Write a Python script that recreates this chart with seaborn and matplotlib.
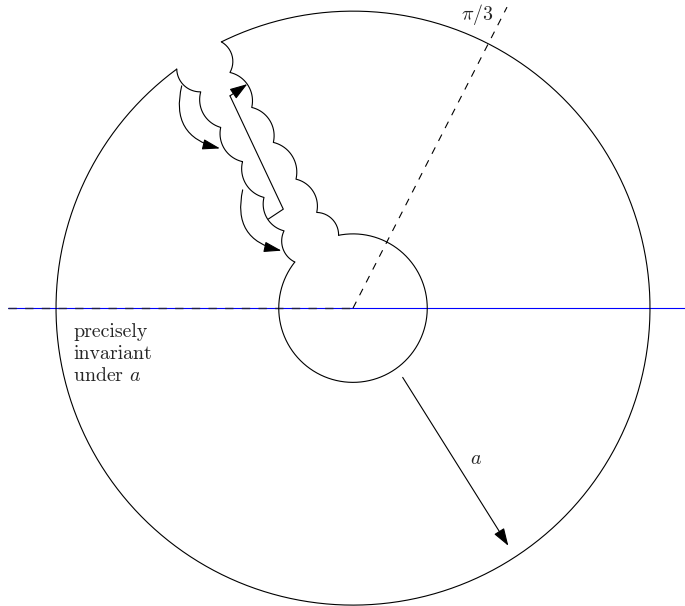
import numpy as np
import matplotlib
matplotlib.use("Agg")
import matplotlib.pyplot as plt
from matplotlib.patches import FancyArrowPatch
import seaborn as sns

# ---- data (units: radius of the inner disc) ----
inner_radius = 1.0
outer_radius = 4.0
ray_end = (2.074, 4.054)                 # dashed ray labelled pi/3
real_axis_x = [-4.646, 4.8]              # horizontal axis extent
dashed_axis_x = [-4.646, 0.0]
left_cut = [(-2.374, 3.219), (-2.051, 2.913), (-1.782, 2.434), (-1.488, 1.973),
            (-1.199, 1.491), (-0.929, 1.041), (-0.784, 0.621)]
right_cut = [(-1.773, 3.586), (-1.657, 3.174), (-1.364, 2.703), (-1.073, 2.232),
             (-0.768, 1.737), (-0.489, 1.289), (-0.194, 0.981)]
scallop_sweep_deg = 90
hook_path = [(-1.141, 1.199), (-0.939, 1.333), (-1.657, 2.859), (-1.424, 3.017)]
curved_arrows = [((-2.307, 2.994), (-1.791, 2.151)),
                 ((-1.486, 1.593), (-0.963, 0.774))]
a_arrow = [(0.669, -0.933), (2.092, -3.201)]
label_pi3 = (1.670, 3.960, r"$\pi/3$")
label_a = (1.657, -2.034, r"$a$")
label_inv = (-3.771, -0.195, "precisely\ninvariant\nunder $a$")

# ---- style ----
sns.set_style("white")
plt.rcParams["mathtext.fontset"] = "cm"
plt.rcParams["font.family"] = ["cmr10", "DejaVu Serif"]
plt.rcParams["axes.unicode_minus"] = False

LW = 0.8
fig = plt.figure(figsize=(6.85, 6.06), dpi=100)
ax = fig.add_axes([0, 0, 1, 1])
ax.set_xlim(-4.754, 4.471)
ax.set_ylim(-4.012, 4.150)
ax.set_aspect("equal")
ax.axis("off")


def arc_between(p, q, sweep_deg, bulge_left, n=40):
    p = np.asarray(p, float)
    q = np.asarray(q, float)
    t = q - p
    c = np.hypot(*t)
    t = t / c
    half = np.radians(sweep_deg) / 2
    r = c / (2 * np.sin(half))
    d = r * np.cos(half)
    right_n = np.array([t[1], -t[0]])
    m = (p + q) / 2
    center = m + (d * right_n if bulge_left else -d * right_n)
    a0 = np.arctan2(p[1] - center[1], p[0] - center[0])
    a1 = np.arctan2(q[1] - center[1], q[0] - center[0])
    da = (a1 - a0 + np.pi) % (2 * np.pi) - np.pi
    ang = a0 + np.linspace(0, da, n)
    return center[0] + r * np.cos(ang), center[1] + r * np.sin(ang)


def draw(xs, ys, lw=LW, **kw):
    sns.lineplot(x=np.asarray(xs), y=np.asarray(ys), sort=False, estimator=None,
                 ax=ax, linewidth=lw, **kw)


# horizontal axis: blue, with dashed black on the left half
draw(real_axis_x, [0, 0], color="blue", zorder=1)
draw(dashed_axis_x, [0, 0], lw=1.0, color="#222244", linestyle=(0, (6, 6)), zorder=2)

# dashed ray
draw([0, ray_end[0]], [0, ray_end[1]], color="black", linestyle=(0, (6.5, 6.5)), zorder=2)

# outer circle with a gap
thL = np.arctan2(left_cut[0][1], left_cut[0][0])
thR = np.arctan2(right_cut[0][1], right_cut[0][0])
ang = np.linspace(thL, thR + 2 * np.pi, 600)
draw(outer_radius * np.cos(ang), outer_radius * np.sin(ang), color="black", zorder=3)

# inner circle with a gap
phL = np.arctan2(left_cut[-1][1], left_cut[-1][0])
phR = np.arctan2(right_cut[-1][1], right_cut[-1][0])
ang = np.linspace(phL, phR + 2 * np.pi, 400)
draw(inner_radius * np.cos(ang), inner_radius * np.sin(ang), color="black", zorder=3)

# scalloped cut boundaries
for pts, bl in ((left_cut, False), (right_cut, True)):
    xs, ys = [], []
    for p, q in zip(pts[:-1], pts[1:]):
        x, y = arc_between(p, q, scallop_sweep_deg, bl)
        xs.extend(x)
        ys.extend(y)
    draw(xs, ys, color="black", zorder=3)

# hook arrow
hx = [p[0] for p in hook_path[:-1]]
hy = [p[1] for p in hook_path[:-1]]
draw(hx, hy, color="black", zorder=3)
ax.add_patch(FancyArrowPatch(hook_path[-2], hook_path[-1],
                             arrowstyle="-|>,head_length=0.6,head_width=0.2",
                             mutation_scale=18, lw=LW, color="black",
                             shrinkA=0, shrinkB=0, zorder=4))

# curved arrows
for s, e in curved_arrows:
    ax.add_patch(FancyArrowPatch(s, e, connectionstyle="arc3,rad=0.5",
                                 arrowstyle="-|>,head_length=0.6,head_width=0.18",
                                 mutation_scale=18, lw=LW, color="black",
                                 shrinkA=0, shrinkB=0, zorder=4))

# straight arrow a
ax.add_patch(FancyArrowPatch(a_arrow[0], a_arrow[1],
                             arrowstyle="-|>,head_length=0.6,head_width=0.2",
                             mutation_scale=18, lw=LW, color="black",
                             shrinkA=0, shrinkB=0, zorder=4))

# labels
ax.text(label_pi3[0], label_pi3[1], label_pi3[2], ha="center", va="center", fontsize=14.3)
ax.text(label_a[0], label_a[1], label_a[2], ha="center", va="center", fontsize=14.3)
ax.text(label_inv[0], label_inv[1], label_inv[2], ha="left", va="top",
        fontsize=14.3, linespacing=1.3)

fig.savefig("out.png", dpi=100)
